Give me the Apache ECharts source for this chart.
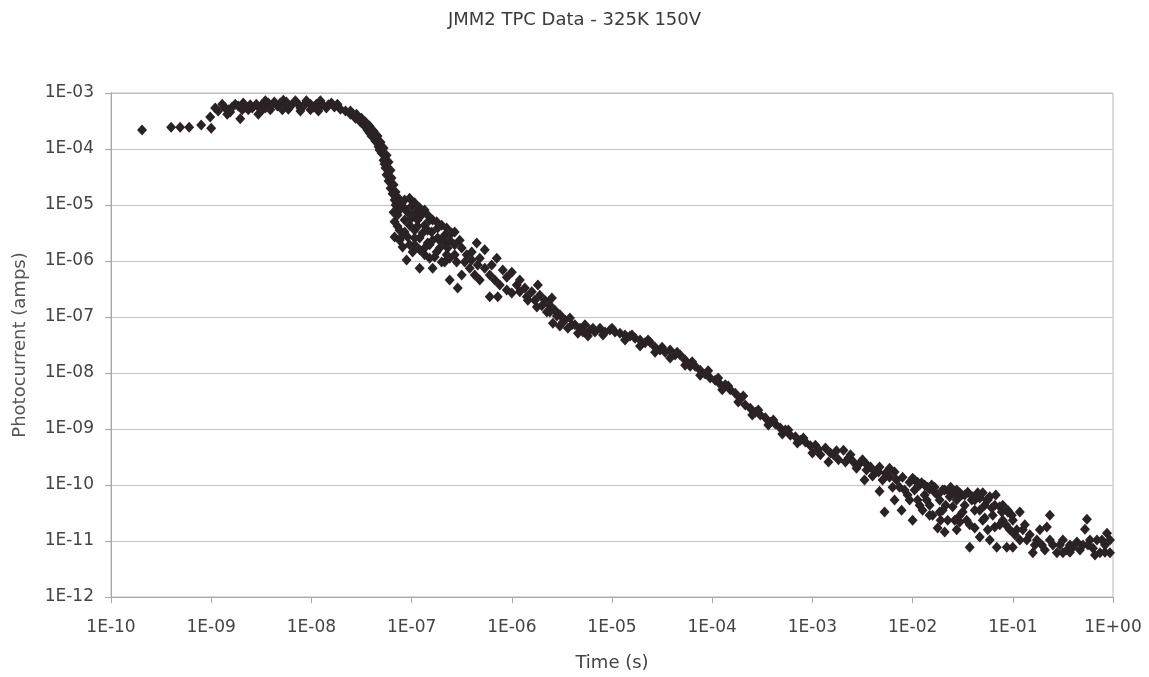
<!DOCTYPE html>
<html><head><meta charset="utf-8">
<script src="https://cdn.jsdelivr.net/npm/echarts@6/dist/echarts.min.js"></script>
<style>html,body{margin:0;padding:0;background:#fff}#c{width:1149px;height:677px}</style>
</head><body><div id="c"></div>
<script>
const chartTitle = 'JMM2 TPC Data - 325K 150V';
const xAxisName = 'Time (s)';
const yAxisName = 'Photocurrent (amps)';
const xTickLabels = ['1E-10','1E-09','1E-08','1E-07','1E-06','1E-05','1E-04','1E-03','1E-02','1E-01','1E+00'];
const yTickLabels = ['1E-12','1E-11','1E-10','1E-09','1E-08','1E-07','1E-06','1E-05','1E-04','1E-03'];

// decade exponents: time (s) and photocurrent (A)
const timeExp = [
 // early rise
 -9.69,-9.40,-9.31,-9.22,-9.10,-9.00,-9.01,-8.93,-8.84,-8.71,-8.53,
 -8.86,-8.79,-8.73,-8.66,-8.61,-8.55,-8.49,-8.43,-8.37,-8.31,-8.25,-8.19,-8.13,-8.07,-8.01,-7.95,-7.89,-7.83,-7.77,
 -8.81,-8.63,-8.46,-8.28,-8.11,-7.93,-8.41,-8.23,-8.01,
 // fast drop
 -7.71,-7.66,-7.61,-7.56,-7.51,-7.47,-7.44,-7.40,-7.36,-7.33,-7.30,-7.28,-7.26,-7.25,-7.23,-7.21,-7.19,-7.17,-7.42,-7.32,-7.27,
 // scattered cluster
 -7.16,-7.12,-7.08,-7.04,-7.14,-7.00,-6.96,-7.07,-7.17,-7.02,-6.94,-6.90,-7.12,-6.97,-6.87,-6.82,
 -7.17,-7.04,-6.92,-6.80,-6.74,-7.09,-6.97,-6.84,-6.72,-6.67,-7.05,-6.92,-6.79,-6.87,-6.75,-6.64,
 -6.57,-6.52,-6.62,-6.62,-6.54,-6.47,-6.42,-6.35,-6.40,-6.32,-6.27,-6.32,-6.22,-6.14,-6.20,-6.15,
 -6.09,-6.05,-6.00,-5.95,-5.85,-5.75,-6.67,-6.77,
 // 1e-6 .. 1e-5
 -5.92,-5.87,-5.80,-5.72,-5.67,-5.62,-5.57,-5.65,-5.52,-5.47,-5.42,-5.37,-5.32,-5.27,-5.22,-5.17,-5.12,-5.07,-5.02,
 -5.59,-5.44,-5.34,-5.24,-5.52,
 // 1e-5 .. 1e-4
 -4.97,-4.92,-4.87,-4.82,-4.77,-4.72,-4.67,-4.62,-4.57,-4.52,-4.47,-4.42,-4.37,-4.32,-4.27,-4.22,-4.17,-4.12,-4.07,-4.02,
 -4.87,-4.72,-4.57,-4.42,-4.27,-4.12,
 // 1e-4 .. 1e-3
 -3.97,-3.92,-3.87,-3.82,-3.77,-3.72,-3.67,-3.62,-3.57,-3.52,-3.47,-3.42,-3.37,-3.32,-3.27,-3.22,-3.17,-3.12,-3.07,-3.02,
 -3.90,-3.74,-3.60,-3.44,-3.30,-3.15,
 // 1e-3 .. 1e-2
 -2.97,-2.92,-2.87,-2.84,-2.79,-2.74,-2.69,-2.64,-2.59,-2.54,-2.50,-2.46,-2.48,-2.42,-2.37,-2.33,-2.30,-2.27,-2.28,
 -2.23,-2.20,-2.18,-2.13,-2.11,-2.10,-2.05,-2.03,
 // 1e-2 .. 1e-1
 -2.00,-1.98,-1.95,-1.93,-1.90,-1.88,-1.85,-1.83,-1.80,-1.78,-1.75,-1.73,-1.70,-1.68,-1.65,-1.63,-1.60,-1.58,-1.56,
 -1.53,-1.51,-1.48,-1.46,-1.43,-1.41,-1.38,-1.35,-1.33,-1.30,-1.28,-1.25,-1.23,-1.20,-1.18,-1.16,-1.13,-1.10,-1.06,
 -1.05,-1.03,-1.83,-1.53,-1.30,
 // 1e-1 .. 1
 -1.00,-1.00,-0.96,-0.93,-0.90,-0.86,-0.83,-0.80,-0.76,-0.73,-0.71,-0.66,-0.63,-0.60,-0.56,-0.53,-0.50,-0.46,-0.43,
 -0.40,-0.36,-0.33,-0.30,-0.28,-0.26,-0.23,-0.20,-0.16,-0.13,-0.11,-0.08,-0.06,-0.03,-0.03,
 // more points: plateau
 -8.96,-8.89,-8.83,-8.76,-8.69,-8.59,-8.53,-8.46,-8.41,-8.34,-8.28,-8.23,-8.16,-8.09,-8.05,-7.98,-7.91,-7.85,-7.80,-7.74,
 -8.68,-8.49,-8.29,-8.11,-7.93,
 // more points: drop
 -7.61,-7.55,-7.50,-7.46,-7.42,-7.38,-7.34,-7.31,-7.28,-7.25,-7.23,-7.21,-7.20,-7.18,-7.16,-7.13,
 // more points: cluster
 -7.12,-7.07,-7.02,-6.97,-6.92,-6.87,-6.84,-6.79,-6.75,-6.70,-6.65,-6.60,-7.14,-7.10,-7.00,-6.94,-6.89,-6.84,-6.79,-6.72,
 -6.67,-6.62,-6.57,-6.50,-6.45,-6.40,-6.34,-6.27,-6.22,-6.17,-6.12,-6.05,-6.00,-7.18,-7.02,-6.99,-6.87,-6.82,-6.70,-6.55,
 -6.50,-6.37,
 -7.12,-7.07,-6.97,-6.92,-6.82,-6.74,-6.65,-6.57,
 // more points: 1e-6 .. 1e-5
 -5.92,-5.84,-5.77,-5.70,-5.62,-5.55,-5.49,-5.40,-5.29,-5.19,-5.09,-5.60,-5.74,
 // more points: 1e-5 .. 1e-3
 -5.00,-4.80,-4.64,-4.50,-4.35,-4.20,-4.04,-3.94,-3.84,-3.69,-3.54,-3.39,-3.24,-3.09,
 // more points: 1e-3 .. 1e-2
 -3.00,-2.94,-2.82,-2.76,-2.67,-2.62,-2.56,-2.46,-2.40,-2.34,-2.23,-2.16,-2.08,-2.33,-2.18,-2.03,
 // more points: 1e-2 .. 1e-1
 -1.98,-1.91,-1.86,-1.81,-1.75,-1.72,-1.67,-1.62,-1.56,-1.50,-1.45,-1.43,-1.38,-1.33,-1.26,-1.21,-1.17,-1.11,-1.07,
 -1.58,-1.68,-1.38,-1.23,
 -2.00,-1.95,-1.88,-1.78,-1.70,-1.63,-1.56,-1.48,-1.40,-1.33,-1.25,-1.18,-1.10,-1.05,-1.01,
 -1.93,-1.73,-1.53,-1.28,-1.13,-1.83,
 // more points: 1e-1 .. 1
 -0.98,-0.93,-0.88,-0.78,-0.68,-0.63,-0.50,-0.43,-0.25,-0.18,-0.08
];
const currentExp = [
 -3.66,-3.61,-3.61,-3.61,-3.57,-3.63,-3.43,-3.32,-3.38,-3.46,-3.38,
 -3.27,-3.25,-3.23,-3.25,-3.21,-3.20,-3.20,-3.18,-3.16,-3.18,-3.16,-3.20,-3.20,-3.21,-3.20,-3.20,-3.20,-3.21,-3.25,
 -3.34,-3.30,-3.27,-3.25,-3.27,-3.27,-3.30,-3.29,-3.30,
 -3.29,-3.32,-3.38,-3.45,-3.52,-3.59,-3.66,-3.77,-3.86,-3.96,-4.07,-4.20,-4.34,-4.46,-4.57,-4.70,-4.80,-4.91,-3.71,-4.02,-4.27,
 -5.00,-5.09,-5.04,-5.13,-5.18,-5.02,-5.13,-5.27,-5.30,-5.36,-5.27,-5.18,-5.45,-5.45,-5.36,-5.27,
 -5.57,-5.57,-5.59,-5.48,-5.41,-5.75,-5.71,-5.68,-5.63,-5.54,-5.98,-6.13,-6.13,-5.89,-5.84,-5.77,
 -5.48,-5.63,-5.95,-6.34,-6.48,-6.02,-6.13,-5.68,-5.84,-5.95,-5.80,-6.34,-6.64,-6.64,-6.07,-5.95,
 -6.16,-6.29,-6.20,-6.43,-6.64,-6.82,-6.02,-5.93,
 -6.34,-6.48,-6.55,-6.61,-6.70,-6.79,-6.88,-6.91,-6.96,-7.05,-7.02,-7.14,-7.20,-7.14,-7.23,-7.27,-7.20,-7.27,-7.23,
 -7.11,-7.20,-7.29,-7.34,-7.16,
 -7.27,-7.29,-7.32,-7.34,-7.38,-7.41,-7.46,-7.45,-7.54,-7.59,-7.63,-7.59,-7.68,-7.68,-7.77,-7.88,-7.88,-7.95,-8.02,-8.09,
 -7.41,-7.52,-7.63,-7.73,-7.86,-8.04,
 -8.13,-8.20,-8.21,-8.30,-8.36,-8.45,-8.57,-8.63,-8.70,-8.75,-8.80,-8.88,-8.91,-8.98,-9.02,-9.11,-9.14,-9.20,-9.23,-9.30,
 -8.30,-8.52,-8.75,-8.93,-9.09,-9.25,
 -9.29,-9.46,-9.34,-9.59,-9.46,-9.55,-9.38,-9.52,-9.59,-9.64,-9.55,-9.73,-9.91,-9.68,-9.77,-9.68,-9.91,-9.79,-10.48,
 -9.86,-10.04,-9.77,-10.04,-10.45,-9.86,-10.18,-9.95,
 -10.63,-10.09,-10.27,-10.00,-10.45,-10.18,-10.04,-10.36,-10.54,-10.13,-10.77,-10.27,-10.45,-10.09,-10.63,-10.21,-10.39,-10.13,-10.80,
 -10.55,-10.18,-10.36,-10.63,-11.11,-10.27,-10.45,-10.14,-10.93,-10.63,-10.36,-10.80,-10.21,-10.54,-10.75,-11.11,-10.39,-10.63,-11.11,
 -10.48,-10.80,-10.07,-10.14,-10.14,
 -10.63,-11.11,-10.80,-10.48,-10.80,-10.98,-10.89,-11.21,-10.98,-10.80,-11.07,-10.75,-10.54,-11.07,-11.21,-11.07,-10.98,-11.16,-11.07,
 -11.11,-11.02,-11.16,-11.07,-10.79,-10.61,-10.98,-11.13,-10.98,-11.21,-10.98,-11.07,-10.86,-11.21,-10.98,
 // more points: plateau
 -3.27,-3.20,-3.30,-3.20,-3.30,-3.27,-3.25,-3.14,-3.23,-3.23,-3.13,-3.23,-3.14,-3.25,-3.14,-3.25,-3.14,-3.27,-3.18,-3.20,
 -3.18,-3.30,-3.30,-3.32,-3.32,
 // more points: drop
 -3.32,-3.38,-3.45,-3.52,-3.59,-3.68,-3.77,-3.88,-3.98,-4.11,-4.23,-4.38,-4.52,-4.64,-4.77,-4.88,
 // more points: cluster
 -4.96,-4.91,-4.88,-4.96,-5.05,-5.09,-5.18,-5.27,-5.30,-5.36,-5.41,-5.50,-5.38,-5.57,-5.23,-5.38,-5.50,-5.45,-5.63,-5.77,
 -5.68,-5.63,-5.71,-5.77,-5.89,-5.98,-6.07,-6.13,-6.25,-6.34,-6.43,-6.52,-6.57,-5.13,-5.71,-5.84,-5.77,-5.95,-6.02,-6.02,
 -6.25,-6.25,
 -5.63,-5.48,-5.59,-5.80,-5.71,-5.59,-5.89,-5.89,
 // more points: 1e-6 .. 1e-5
 -6.55,-6.70,-6.70,-6.80,-6.91,-6.98,-7.09,-7.14,-7.27,-7.20,-7.32,-6.66,-6.43,
 // more points: 1e-5 .. 1e-3
 -7.20,-7.32,-7.41,-7.54,-7.63,-7.80,-7.96,-8.09,-8.23,-8.41,-8.66,-8.84,-9.02,-9.16,
 // more points: 1e-3 .. 1e-2
 -9.43,-9.36,-9.43,-9.39,-9.59,-9.46,-9.70,-9.63,-9.84,-9.77,-9.70,-9.91,-10.09,-10.11,-10.27,-10.27,
 // more points: 1e-2 .. 1e-1
 -9.91,-9.96,-10.27,-10.00,-10.18,-10.63,-10.36,-10.04,-10.27,-10.48,-10.13,-10.71,-10.27,-10.45,-10.27,-10.41,-10.18,-10.48,-10.71,
 -10.63,-10.84,-10.77,-10.98,
 -9.88,-9.95,-10.00,-10.04,-10.09,-10.13,-10.09,-10.18,-10.21,-10.23,-10.27,-10.36,-10.36,-10.45,-10.54,
 -10.36,-10.48,-10.66,-10.59,-10.71,-10.54,
 // more points: 1e-1 .. 1
 -10.89,-10.98,-10.71,-11.07,-11.16,-10.98,-11.21,-11.20,-11.07,-11.25,-11.20
];

const points = timeExp.map((e, i) => [Math.pow(10, e), Math.pow(10, currentExp[i])]);

function decadeIndex(v, minExp) { return Math.round(Math.log10(v)) - minExp; }

const font = 'DejaVu Sans';
const chart = echarts.init(document.getElementById('c'), null, { renderer: 'canvas' });
chart.setOption({
  backgroundColor: '#ffffff',
  animation: false,
  title: {
    text: chartTitle, left: 'center', top: 11, padding: 0,
    textStyle: { fontFamily: font, fontSize: 18, fontWeight: 'normal', color: '#3a3a3a' }
  },
  grid: { left: 111, right: 36, top: 93, bottom: 80, show: true, borderColor: '#b8b8b8', borderWidth: 1 },
  xAxis: {
    type: 'log', logBase: 10, min: 1e-10, max: 1, interval: 1,
    name: xAxisName, nameLocation: 'middle', nameGap: 57,
    nameTextStyle: { fontFamily: font, fontSize: 18, color: '#444' },
    axisLine: { show: true, lineStyle: { color: '#a8a8a8' } },
    axisTick: { show: true, length: 6, interval: 0, lineStyle: { color: '#a8a8a8' } },
    minorTick: { show: false },
    splitLine: { show: false },
    axisLabel: { fontFamily: font, fontSize: 17, color: '#444', margin: 22, interval: 0, hideOverlap: false,
      formatter: v => xTickLabels[decadeIndex(v, -10)] }
  },
  yAxis: {
    type: 'log', logBase: 10, min: 1e-12, max: 1e-3, interval: 1,
    name: yAxisName, nameLocation: 'middle', nameGap: 82,
    nameTextStyle: { fontFamily: font, fontSize: 18, color: '#555' },
    axisLine: { show: true, lineStyle: { color: '#a8a8a8' } },
    axisTick: { show: true, length: 6, lineStyle: { color: '#a8a8a8' } },
    minorTick: { show: false },
    splitLine: { show: true, lineStyle: { color: '#c4c4c4', width: 1 } },
    axisLabel: { fontFamily: font, fontSize: 17, color: '#444', margin: 17,
      formatter: v => yTickLabels[decadeIndex(v, -12)] }
  },
  series: [{
    type: 'scatter',
    data: points,
    symbol: 'diamond',
    symbolSize: [10, 11],
    itemStyle: { color: '#2b2226', opacity: 1 }
  }]
});
</script>
</body></html>
